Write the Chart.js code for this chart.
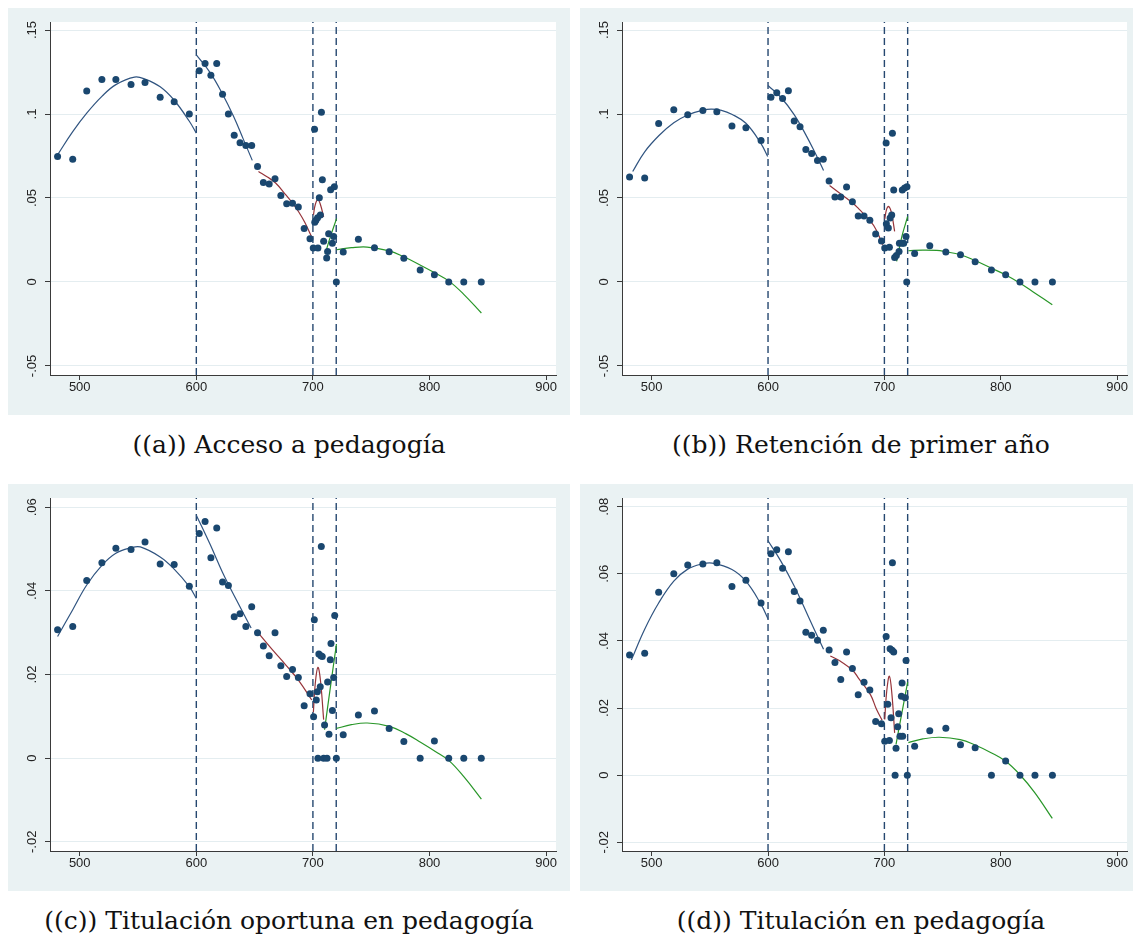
<!DOCTYPE html>
<html lang="es">
<head>
<meta charset="utf-8">
<title>Discontinuidades por puntaje</title>
<script src="https://cdn.jsdelivr.net/npm/chart.js@4.4.1/dist/chart.umd.min.js"></script>
<style>
  body { margin: 0; width: 1133px; height: 939px; background: #fff; position: relative; overflow: hidden; }
  .panel { position: absolute; background: #eaf2f3; }
  .panel canvas { display: block; }
  .cap { position: absolute; width: 562px; text-align: center; font-family: 'DejaVu Serif', serif;
         font-size: 25px; line-height: 30px; color: #111; white-space: nowrap; }
</style>
</head>
<body>

<div class="panel" style="left:8px;top:8px;width:562px;height:407px"><canvas id="gA" width="562" height="407"></canvas></div>
<div class="panel" style="left:580px;top:8px;width:553px;height:407px"><canvas id="gB" width="553" height="407"></canvas></div>
<div class="panel" style="left:8px;top:484px;width:562px;height:407px"><canvas id="gC" width="562" height="407"></canvas></div>
<div class="panel" style="left:580px;top:484px;width:553px;height:407px"><canvas id="gD" width="553" height="407"></canvas></div>

<div class="cap" style="left:8px;top:430px">((a)) Acceso a pedagogía</div>
<div class="cap" style="left:580px;top:430px">((b)) Retención de primer año</div>
<div class="cap" style="left:8px;top:906px">((c)) Titulación oportuna en pedagogía</div>
<div class="cap" style="left:580px;top:906px">((d)) Titulación en pedagogía</div>

<script>
// puntaje promedio de cada bin (igual en los cuatro resultados)
const binsBajo  = [481, 494, 506, 519, 531, 544, 556, 569, 581, 594];
const binsMedio = [602.5, 607.5, 612.5, 617.5, 622.5, 627.5, 632.5, 637.5, 642.5, 647.5,
                   652.5, 657.5, 662.5, 667.5, 672.5, 677.5, 682.5, 687.5, 692.5, 697.5];
const binsAlto  = [726, 739, 752.8, 765.4, 778, 792, 804.2, 816.5, 829.4, 844.4];
const cortes = [600, 700, 720];
const xTicks = [500, 600, 700, 800, 900];

// (a) Acceso a pedagogía
const yBajoA  = [0.0747, 0.073, 0.1137, 0.1206, 0.1206, 0.1176, 0.1188, 0.110, 0.1073, 0.100];
const yMedioA = [0.1257, 0.1301, 0.1231, 0.1301, 0.1118, 0.100, 0.0874, 0.0829, 0.0813, 0.0813,
                 0.0688, 0.0593, 0.0583, 0.0615, 0.0515, 0.0466, 0.0468, 0.0446, 0.0319, 0.0258];
const xTramoA = [700.3, 701.4, 701.6, 702.6, 704.0, 704.3, 705.5, 706.4, 707.3, 708.1,
                 709.2, 711.8, 712.6, 713.5, 715.2, 716.7, 717.8, 718.4, 720.1];
const yTramoA = [0.0202, 0.091, 0.0355, 0.0367, 0.0383, 0.0202, 0.0502, 0.0399, 0.1011, 0.0609,
                 0.0242, 0.0143, 0.0182, 0.0287, 0.0549, 0.023, 0.0271, 0.0567, 0];
const yAltoA  = [0.0178, 0.0254, 0.0204, 0.018, 0.0141, 0.0071, 0.0043, 0, 0, 0];
const azulA1  = [[481, 0.0757], [494, 0.0895], [506, 0.1005], [519, 0.1105], [531, 0.1175], [547, 0.122],
                 [556, 0.1208], [569, 0.1162], [581, 0.1082], [594, 0.0957], [600, 0.0886]];
const azulA2  = [[600, 0.1352], [612, 0.1245], [622, 0.1125], [632, 0.0985], [640, 0.0855], [648, 0.0724]];
const rojoA1  = [[653.3, 0.0658], [661, 0.0625], [668, 0.0589], [676, 0.0525], [683, 0.0465],
                 [688, 0.0415], [693, 0.0355], [699.2, 0.0265]];
const rojoA2  = [[700.5, 0.040], [702, 0.046], [704.3, 0.049], [706.5, 0.046], [709.2, 0.0387]];
const verdeA1 = [[710.5, 0.0167], [715, 0.027], [720.3, 0.0377]];
const verdeA2 = [[720.3, 0.0192], [733, 0.0204], [746.5, 0.0208], [765.6, 0.0185], [778, 0.015],
                 [792.3, 0.010], [804.4, 0.0055], [816.7, 0.0005], [829.6, -0.0075], [844.5, -0.0185]];

// (b) Retención de primer año
const yBajoB  = [0.0625, 0.0619, 0.0944, 0.1025, 0.0995, 0.1021, 0.1013, 0.0928, 0.0918, 0.0843];
const yMedioB = [0.110, 0.1126, 0.1093, 0.1138, 0.0958, 0.0924, 0.0789, 0.0765, 0.0724, 0.073,
                 0.0601, 0.0506, 0.0506, 0.0565, 0.0478, 0.0393, 0.0393, 0.0367, 0.0286, 0.0244];
const xTramoB = [700.3, 701.5, 701.7, 703.4, 704.3, 704.9, 706.3, 706.9, 708.0, 708.8,
                 710.3, 712.6, 712.9, 715.2, 715.4, 716.6, 717.4, 718.6, 719.4, 719.2];
const yTramoB = [0.0202, 0.0827, 0.0347, 0.0321, 0.0206, 0.0381, 0.0399, 0.0886, 0.0547, 0.0146,
                 0.0158, 0.0182, 0.023, 0.023, 0.0547, 0.023, 0.0559, 0.027, 0.0567, 0];
const yAltoB  = [0.017, 0.0216, 0.0178, 0.0162, 0.0121, 0.0071, 0.0043, 0, 0, 0];
const azulB1  = [[483.7, 0.0658], [494, 0.0775], [506.3, 0.0872], [519, 0.0948], [531.4, 0.0996], [544, 0.1023],
                 [551.4, 0.1029], [560, 0.1022], [568.8, 0.0999], [581, 0.0945], [593.7, 0.0827], [599.7, 0.0747]];
const azulB2  = [[600, 0.117], [611, 0.110], [622.6, 0.0995], [632.5, 0.0876], [640, 0.0775], [647.7, 0.0664]];
const rojoB1  = [[652.9, 0.0575], [661.4, 0.053], [672.8, 0.047], [678, 0.0435], [688, 0.0362],
                 [693, 0.031], [698.5, 0.0222]];
const rojoB2  = [[700.3, 0.0375], [702, 0.0435], [703.7, 0.045], [706, 0.0415], [708.8, 0.0301]];
const verdeB1 = [[710.5, 0.0123], [715, 0.027], [720, 0.039]];
const verdeB2 = [[720.6, 0.0186], [733, 0.019], [745, 0.0188], [752.6, 0.018], [765.2, 0.0162], [777.4, 0.0129],
                 [791.7, 0.0083], [804, 0.0043], [816.3, -0.0006], [829.2, -0.0065], [844.3, -0.0135]];

// (c) Titulación oportuna en pedagogía
const yBajoC  = [0.0307, 0.0315, 0.0425, 0.0467, 0.0502, 0.0499, 0.0517, 0.0464, 0.0463, 0.0411];
const yMedioC = [0.0537, 0.0566, 0.0479, 0.055, 0.0421, 0.0413, 0.0338, 0.0345, 0.0315, 0.0362,
                 0.030, 0.0268, 0.0245, 0.030, 0.0221, 0.0195, 0.0212, 0.0193, 0.0125, 0.0154];
const xTramoC = [700.6, 701.2, 702.9, 703.8, 704.3, 705.1, 706.3, 706.8, 707.2, 708.0, 709.2,
                 710.0, 712.1, 712.6, 713.8, 714.9, 715.5, 716.7, 717.8, 718.7, 720.1];
const yTramoC = [0.0099, 0.0331, 0.0139, 0.0159, 0, 0.0249, 0.0171, 0.0245, 0.0506, 0.0243, 0,
                 0.0079, 0, 0.0182, 0.0057, 0.0235, 0.0274, 0.0114, 0.0193, 0.0341, 0];
const yAltoC  = [0.0056, 0.0103, 0.0113, 0.0071, 0.004, 0, 0.0041, 0, 0, 0];
const azulC1  = [[481, 0.0291], [494, 0.0355], [506, 0.0414], [519, 0.0461], [531, 0.049], [544, 0.0503],
                 [552, 0.0505], [569, 0.0481], [581, 0.0452], [594, 0.041], [600, 0.0382]];
const azulC2  = [[600, 0.0581], [612, 0.051], [622.5, 0.0444], [635, 0.0375], [647, 0.0311]];
const rojoC1  = [[653.3, 0.0299], [665, 0.026], [677, 0.0222], [688, 0.0185], [699, 0.0139]];
const rojoC2  = [[700.4, 0.011], [702, 0.0178], [704.3, 0.0217], [706.5, 0.0185], [709.2, 0.0092]];
const verdeC1 = [[710, 0.0068], [715, 0.017], [720.2, 0.0273]];
const verdeC2 = [[720.2, 0.0071], [733, 0.008], [746.6, 0.0084], [765.6, 0.0076], [780, 0.0058],
                 [792.3, 0.0038], [805, 0.0016], [816.7, -0.0006], [829.6, -0.0045], [844.5, -0.0098]];

// (d) Titulación en pedagogía
const yBajoD  = [0.0358, 0.0363, 0.0545, 0.060, 0.0626, 0.0629, 0.0633, 0.0562, 0.0581, 0.0513];
const yMedioD = [0.066, 0.0672, 0.0617, 0.0666, 0.0547, 0.0519, 0.0426, 0.0417, 0.0402, 0.0432,
                 0.0373, 0.0336, 0.0285, 0.0367, 0.0318, 0.024, 0.0277, 0.0254, 0.016, 0.0153];
const xTramoD = [700.3, 701.5, 702.9, 704.3, 704.9, 705.7, 706.6, 706.9, 708.0, 709.2,
                 710.0, 711.4, 712.3, 713.4, 714.6, 715.2, 715.7, 718.0, 718.6, 719.7];
const yTramoD = [0.0101, 0.0413, 0.0211, 0.0103, 0.0377, 0.0171, 0.0372, 0.0633, 0.0367, 0,
                 0.008, 0.0144, 0.0183, 0.0116, 0.0235, 0.0275, 0.0116, 0.0231, 0.0342, 0];
const yAltoD  = [0.0086, 0.0132, 0.014, 0.0091, 0.0082, 0, 0.0042, 0, 0, 0];
const azulD1  = [[482.5, 0.0343], [494, 0.0435], [506, 0.0513], [519, 0.0578], [531, 0.0614], [544, 0.063],
                 [552, 0.0632], [569, 0.0613], [581, 0.0578], [594, 0.0509], [600, 0.0466]];
const azulD2  = [[599.7, 0.070], [611, 0.0638], [622.6, 0.0563], [635, 0.047], [647.7, 0.0375]];
const rojoD1  = [[653.5, 0.0355], [662, 0.034], [672.8, 0.0312], [678, 0.0288], [688, 0.024],
                 [693, 0.0198], [698, 0.0164]];
const rojoD2  = [[700.3, 0.0166], [702, 0.025], [704.3, 0.0295], [706.5, 0.024], [708.8, 0.0126]];
const verdeD1 = [[710, 0.0092], [715, 0.0185], [720, 0.0277]];
const verdeD2 = [[720.6, 0.0097], [733, 0.0108], [747.2, 0.0113], [765.2, 0.0106], [778, 0.009],
                 [791.7, 0.0067], [804, 0.0042], [816.3, 0.0002], [829.2, -0.0052], [844.3, -0.0129]];

// ejes y
const yTicksAB = [-0.05, 0, 0.05, 0.1, 0.15];
const yEtiqAB  = ['-.05', '0', '.05', '.1', '.15'];
const yTicksC  = [-0.02, 0, 0.02, 0.04, 0.06];
const yEtiqC   = ['-.02', '0', '.02', '.04', '.06'];
const yTicksD  = [-0.02, 0, 0.02, 0.04, 0.06, 0.08];
const yEtiqD   = ['-.02', '0', '.02', '.04', '.06', '.08'];

const colPunto = 'rgb(26,71,111)';
const colAzul  = 'rgb(48,84,128)';
const colRojo  = 'rgb(150,52,58)';
const colVerde = 'rgb(40,150,40)';
const fuente = { family: "'Liberation Sans', Arial, sans-serif", size: 13, lineHeight: 1 };

Chart.defaults.font.family = fuente.family;

// area del grafico en blanco sobre el fondo gris azulado
const areaBlanca = {
  id: 'areaBlanca',
  beforeDraw(chart) {
    const { ctx, chartArea: a } = chart;
    ctx.save();
    ctx.fillStyle = '#ffffff';
    ctx.fillRect(a.left, a.top, a.right - a.left, a.bottom - a.top);
    ctx.restore();
  }
};

function curva(pares, color) {
  return {
    data: pares.map(p => ({ x: p[0], y: p[1] })),
    showLine: true, borderColor: color, borderWidth: 1.2,
    pointRadius: 0, tension: 0.4
  };
}

function panel(id, o) {
  const xs = binsBajo.concat(binsMedio, o.xTramo, binsAlto);
  const ys = o.yBajo.concat(o.yMedio, o.yTramo, o.yAlto);
  const datasets = [{
    data: xs.map((x, i) => ({ x: x, y: ys[i] })),
    pointRadius: 3.5, pointBackgroundColor: colPunto, pointBorderWidth: 0
  }];
  o.azul.forEach(c => datasets.push(curva(c, colAzul)));
  o.rojo.forEach(c => datasets.push(curva(c, colRojo)));
  o.verde.forEach(c => datasets.push(curva(c, colVerde)));
  cortes.forEach(c => datasets.push({
    data: [{ x: c, y: o.yMin }, { x: c, y: o.yMax }],
    showLine: true, borderColor: 'rgb(38,72,112)', borderWidth: 1.4,
    borderDash: [7, 4], pointRadius: 0
  }));

  new Chart(document.getElementById(id), {
    type: 'scatter',
    data: { datasets },
    options: {
      responsive: false,
      animation: false,
      events: [],
      layout: { padding: { left: 0, top: 14, right: o.derecha, bottom: 0 } },
      plugins: { legend: { display: false }, tooltip: { enabled: false } },
      scales: {
        x: {
          type: 'linear', min: 474.5, max: 908.5,
          afterBuildTicks: s => { s.ticks = xTicks.map(v => ({ value: v })); },
          afterFit: s => { s.height = 40; },
          grid: { drawOnChartArea: false, tickLength: 5, tickColor: '#3a3a3a' },
          border: { color: '#3a3a3a', width: 1 },
          ticks: { autoSkip: false, maxRotation: 0, padding: 1, color: '#222', font: fuente,
                   callback: v => String(v) }
        },
        y: {
          type: 'linear', min: o.yMin, max: o.yMax,
          afterBuildTicks: s => { s.ticks = o.yTicks.map(v => ({ value: v })); },
          afterFit: s => { s.width = 42; },
          grid: { color: '#e4edf0', lineWidth: 1, tickLength: 5, tickColor: '#3a3a3a' },
          border: { color: '#3a3a3a', width: 1 },
          ticks: { minRotation: 90, maxRotation: 90, crossAlign: 'center', padding: 1,
                   color: '#222', font: fuente, callback: (v, i) => o.yEtiq[i] }
        }
      }
    },
    plugins: [areaBlanca]
  });
}

panel('gA', { yBajo: yBajoA, yMedio: yMedioA, xTramo: xTramoA, yTramo: yTramoA, yAlto: yAltoA,
  azul: [azulA1, azulA2], rojo: [rojoA1, rojoA2], verde: [verdeA1, verdeA2],
  yMin: -0.0554, yMax: 0.1548, yTicks: yTicksAB, yEtiq: yEtiqAB, derecha: 14 });
panel('gB', { yBajo: yBajoB, yMedio: yMedioB, xTramo: xTramoB, yTramo: yTramoB, yAlto: yAltoB,
  azul: [azulB1, azulB2], rojo: [rojoB1, rojoB2], verde: [verdeB1, verdeB2],
  yMin: -0.0554, yMax: 0.1548, yTicks: yTicksAB, yEtiq: yEtiqAB, derecha: 6 });
panel('gC', { yBajo: yBajoC, yMedio: yMedioC, xTramo: xTramoC, yTramo: yTramoC, yAlto: yAltoC,
  azul: [azulC1, azulC2], rojo: [rojoC1, rojoC2], verde: [verdeC1, verdeC2],
  yMin: -0.0222, yMax: 0.0622, yTicks: yTicksC, yEtiq: yEtiqC, derecha: 14 });
panel('gD', { yBajo: yBajoD, yMedio: yMedioD, xTramo: xTramoD, yTramo: yTramoD, yAlto: yAltoD,
  azul: [azulD1, azulD2], rojo: [rojoD1, rojoD2], verde: [verdeD1, verdeD2],
  yMin: -0.0226, yMax: 0.0826, yTicks: yTicksD, yEtiq: yEtiqD, derecha: 6 });
</script>
</body>
</html>
